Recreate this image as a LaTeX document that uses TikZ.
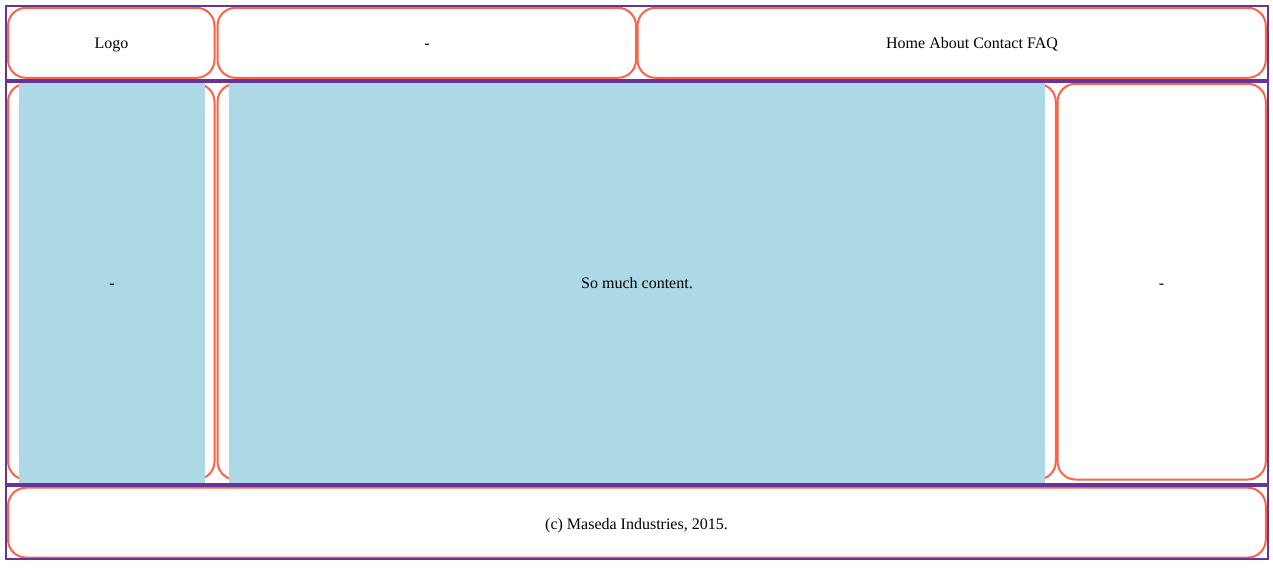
\documentclass[tikz,border=0pt]{standalone}
\usepackage{fontspec}
\setmainfont{Liberation Serif}
\definecolor{tomatoc}{HTML}{FF6347}
\definecolor{rpurple}{HTML}{663399}
\definecolor{lblue}{HTML}{ADD8E6}
\tikzset{
  cell/.style={draw=tomatoc, line width=2pt, fill=white, rounded corners=18pt},
  bluefill/.style={fill=lblue, draw=none},
  sep/.style={draw=rpurple, line width=3.6pt},
  frame/.style={draw=rpurple, line width=2pt},
  label/.style={anchor=base, inner sep=0pt, font=\fontsize{16}{19}\selectfont, text=black}
}
\begin{document}
\begin{tikzpicture}[x=1pt,y=-1pt]
\useasboundingbox (0,0) rectangle (1273,567);
\fill[white] (0,0) rectangle (1273,567);
% header cells
\path[cell] (8,7.8) rectangle (214.5,77.8);
\path[cell] (217.5,7.8) rectangle (636,77.8);
\path[cell] (637.5,7.8) rectangle (1265.8,77.8);
% body cells
\path[cell] (8,83.8) rectangle (214.5,479.5);
\path[cell] (217.5,83.8) rectangle (1055.8,479.5);
\path[cell] (1057.5,83.8) rectangle (1265.8,479.5);
% footer cell
\path[cell] (8,487.7) rectangle (1265.8,557.5);
% blue content
\path[bluefill] (19,82.6) rectangle (205,483);
\path[bluefill] (229,82.6) rectangle (1045,483);
% purple frame and separators
\draw[sep] (6,80.8) -- (1268,80.8);
\draw[sep] (6,484.8) -- (1268,484.8);
\draw[frame] (6,6) rectangle (1268,559);
% texts
\node[label] (logo) at (111.5,48.5) {Logo};
\node[label] (hmid) at (427,48.5) {-};
\node[label] (nav) at (972,48.5) {Home About Contact FAQ};
\node[label] (left) at (112,288.5) {-};
\node[label] (main) at (637,288.5) {So much content.};
\node[label] (right) at (1161.5,288.5) {-};
\node[label] (foot) at (636.5,529.5) {(c) Maseda Industries, 2015.};
\end{tikzpicture}
\end{document}
